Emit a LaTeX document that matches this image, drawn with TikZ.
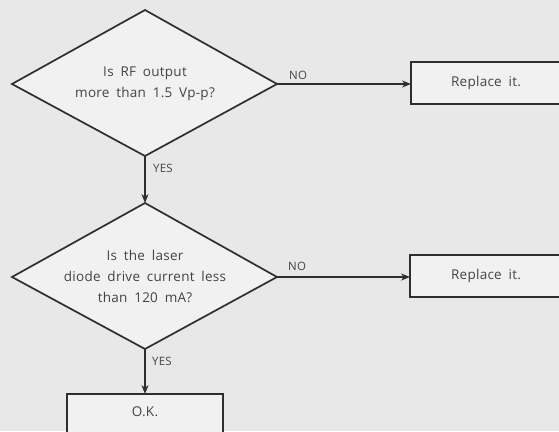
\documentclass[tikz,border=0pt]{standalone}
\usepackage{fontspec}
\setmainfont{Open Sans}[LetterSpace=2,WordSpace=1.8]
\usetikzlibrary{arrows.meta}
\definecolor{bg}{HTML}{E8E8E8}
\definecolor{ink}{HTML}{2E2E2E}
\definecolor{txt}{HTML}{444444}
\begin{document}
\begin{tikzpicture}[x=1pt,y=-1pt,
  line/.style={draw=ink,line width=1.7pt},
  arr/.style={line,-{Stealth[length=9pt,width=7pt]}},
  lbl/.style={text=txt,font=\fontsize{11.5}{13}\selectfont,inner sep=0pt},
  boxtxt/.style={text=txt,font=\fontsize{13.5}{21}\selectfont,align=center}]
\useasboundingbox (0,0) rectangle (559,431);
\fill[bg] (0,0) rectangle (559,431);
\begin{scope}
\clip (0,0) rectangle (559,431);
% diamond 1
\coordinate (d1t) at (145,10);
\coordinate (d1l) at (12,84);
\coordinate (d1r) at (277,84);
\coordinate (d1b) at (145,156);
\draw[line,fill=bg!60!white,line join=miter] (d1t) -- (d1r) -- (d1b) -- (d1l) -- cycle;
\node[boxtxt] (q1) at (145,84) {Is RF output\\more than 1.5 Vp-p?};
% diamond 2
\coordinate (d2t) at (145,203);
\coordinate (d2l) at (12,277);
\coordinate (d2r) at (277,277);
\coordinate (d2b) at (145,349);
\draw[line,fill=bg!60!white] (d2t) -- (d2r) -- (d2b) -- (d2l) -- cycle;
\node[boxtxt] (q2) at (145,276) {Is the laser\\diode drive current less\\than 120 mA?};
% boxes
\draw[line,fill=bg!60!white] (411,62) rectangle (575,104);
\node[boxtxt] (r1) at (486,83) {Replace it.};
\coordinate (r1w) at (411,84);
\draw[line,fill=bg!60!white] (410,255) rectangle (575,297);
\node[boxtxt] (r2) at (486,276) {Replace it.};
\coordinate (r2w) at (410,277);
\draw[line,fill=bg!60!white] (67,394) rectangle (223,450);
\node[boxtxt] (ok) at (145,412) {O.K.};
\coordinate (okn) at (145,394);
% connectors
\draw[arr] (d1r) -- (r1w);
\draw[arr] (d2r) -- (r2w);
\draw[arr] (d1b) -- (d2t);
\draw[arr] (d2b) -- (okn);
\node[lbl,anchor=west] (no1) at (289,75) {NO};
\node[lbl,anchor=west] (no2) at (288,266) {NO};
\node[lbl,anchor=west] (y1) at (153,168) {YES};
\node[lbl,anchor=west] (y2) at (152,361) {YES};
\end{scope}
\end{tikzpicture}
\end{document}
